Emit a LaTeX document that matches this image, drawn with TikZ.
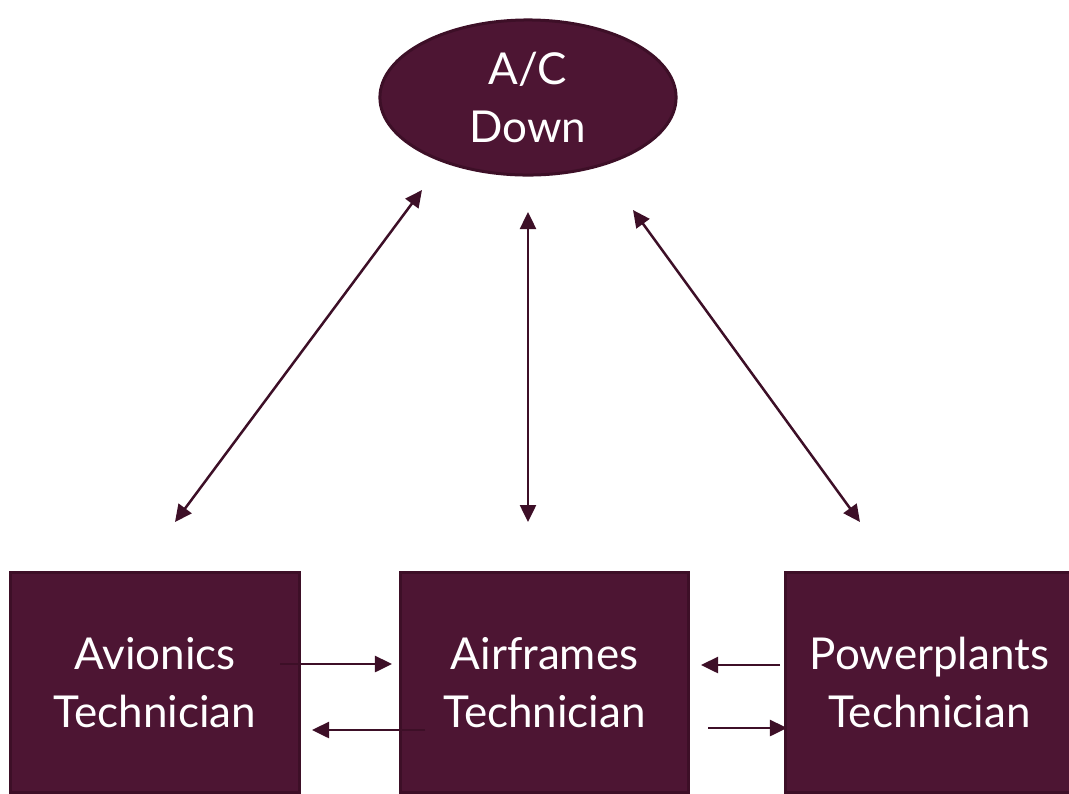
\documentclass[tikz,border=0pt]{standalone}
\usepackage{fontspec}
\setmainfont{Lato}
\usetikzlibrary{arrows.meta,shapes.geometric}
\definecolor{maroon}{HTML}{4D1533}
\definecolor{maroonedge}{HTML}{3D0F27}
\tikzstyle{techbox}=[rectangle,fill=maroon,draw=maroonedge,line width=0.03cm,minimum width=2.88cm,minimum height=2.19cm,inner sep=0pt,text=white,align=center,font=\fontsize{12.5}{16.5}\selectfont]
\tikzstyle{statenode}=[ellipse,fill=maroon,draw=maroonedge,line width=0.03cm,minimum width=2.96cm,minimum height=1.55cm,inner sep=0pt,text=white,align=center,font=\fontsize{12.5}{16.5}\selectfont]
\tikzstyle{link}=[draw=maroonedge,line width=0.025cm,-{Triangle[length=0.17cm,width=0.16cm]}]
\tikzstyle{duallink}=[link,{Triangle[length=0.17cm,width=0.16cm]}-{Triangle[length=0.17cm,width=0.16cm]}]

\begin{document}
\begin{tikzpicture}[x=0.01cm,y=-0.01cm]

   \clip (0,0) rectangle (1069,793);
   \useasboundingbox (0,0) rectangle (1069,793);

% top
   \node[statenode] (down) at (528,97.5) {A/C\\Down};

% technicians
    \foreach \pos/\name/\label in {{(155,682.5)/avi/Avionics}, {(544.5,682.5)/air/Airframes}, {(929.5,682.5)/pwr/Powerplants}}
        \node[techbox] (\name) at \pos {\label\\Technician};

% arrow ends
   \coordinate (downL) at (422,190);
   \coordinate (downM) at (528,212);
   \coordinate (downR) at (633,210);
   \coordinate (aviT) at (175,522);
   \coordinate (airT) at (528,522);
   \coordinate (pwrT) at (860,522);

   \coordinate (aviA) at (280,664);
   \coordinate (airA) at (392,664);
   \coordinate (airB) at (425,730);
   \coordinate (aviB) at (312,730);
   \coordinate (pwrC) at (780,665);
   \coordinate (airC) at (701,665);
   \coordinate (airD) at (708,728);
   \coordinate (pwrD) at (787,728);

% up and down
    \foreach \source/ \dest in {downL/aviT, downM/airT, downR/pwrT}
        \path[duallink] (\source) -- (\dest);

% side to side
    \foreach \source/ \dest in {aviA/airA, airB/aviB, pwrC/airC, airD/pwrD}
        \path[link] (\source) -- (\dest);

\end{tikzpicture}
\end{document}
